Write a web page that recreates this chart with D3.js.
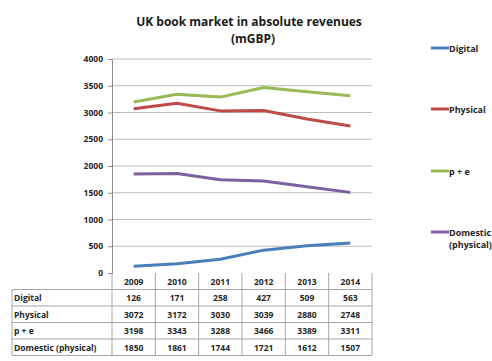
<!DOCTYPE html>
<html>
<head>
<meta charset="utf-8">
<script src="https://cdn.jsdelivr.net/npm/d3@7"></script>
<style>
  html, body { margin: 0; padding: 0; background: #fff; }
  svg { display: block; font-family: "Open Sans", Lato, sans-serif; }
</style>
</head>
<body>
<svg id="chart" width="492" height="361"></svg>
<script>
// UK book market, revenues in million GBP
const years = ["2009", "2010", "2011", "2012", "2013", "2014"];
const seriesNames = ["Digital", "Physical", "p + e", "Domestic (physical)"];
const legendLabels = [["Digital"], ["Physical"], ["p + e"], ["Domestic", "(physical)"]];
const digital = [126, 171, 258, 427, 509, 563];
const physical = [3072, 3172, 3030, 3039, 2880, 2748];
const pPlusE = [3198, 3343, 3288, 3466, 3389, 3311];
const domestic = [1850, 1861, 1744, 1721, 1612, 1507];
const yTicks = [0, 500, 1000, 1500, 2000, 2500, 3000, 3500, 4000];
const colors = ["#4a7ebb", "#be4b48", "#98b954", "#7d60a0"];

const seriesValues = [digital, physical, pPlusE, domestic];

const svg = d3.select("#chart");
const font = "'Open Sans', Lato, sans-serif";
const textColor = "#262626";

const plot = { left: 112, right: 372, top: 59, bottom: 273 };
const x = d3.scaleBand().domain(years).range([plot.left, plot.right]);
const y = d3.scaleLinear().domain([0, 4000]).range([plot.bottom, plot.top]);

// title (two lines)
svg.append("text")
  .attr("x", 249).attr("y", 26)
  .attr("text-anchor", "middle")
  .attr("font-size", 12).attr("font-weight", "bold").attr("fill", "#1a1a1a")
  .text("UK book market in absolute revenues");
svg.append("text")
  .attr("x", 253).attr("y", 42.5)
  .attr("text-anchor", "middle")
  .attr("font-size", 12).attr("font-weight", "bold").attr("fill", "#1a1a1a")
  .text("(mGBP)");

// horizontal gridlines
svg.append("g")
  .selectAll("line")
  .data(yTicks.filter(d => d > 0))
  .join("line")
  .attr("x1", plot.left).attr("x2", plot.right)
  .attr("y1", d => y(d)).attr("y2", d => y(d))
  .attr("stroke", "#bdbdbd").attr("stroke-width", 1);

// y axis
const yAxis = svg.append("g")
  .attr("transform", `translate(${plot.left},0)`)
  .call(d3.axisLeft(y).tickValues(yTicks).tickSize(4).tickPadding(5).tickFormat(d3.format("d")));
yAxis.select(".domain").attr("stroke", "#8c8c8c");
yAxis.selectAll(".tick line").attr("stroke", "#8c8c8c");
yAxis.selectAll(".tick text")
  .attr("font-size", 8.5).attr("font-weight", "bold").attr("fill", textColor)
  .attr("font-family", font);

// series lines
const line = d3.line()
  .x((d, i) => x(years[i]) + x.bandwidth() / 2)
  .y(d => y(d));

svg.append("g")
  .selectAll("path")
  .data(seriesValues)
  .join("path")
  .attr("d", d => line(d))
  .attr("fill", "none")
  .attr("stroke", (d, i) => colors[i])
  .attr("stroke-width", 3)
  .attr("stroke-linejoin", "round")
  .attr("stroke-linecap", "butt");

// data table below the axis
const table = { left: 12, top: 273, rowH: 16.5 };
const tableG = svg.append("g");
const gridColor = "#a6a6a6";
const nRows = seriesNames.length;
const tableBottom = table.top + table.rowH * (nRows + 1);

// vertical borders of year columns (including header)
const colEdges = years.map(yr => x(yr)).concat([plot.right]);
colEdges.forEach(cx => {
  tableG.append("line")
    .attr("x1", cx).attr("x2", cx)
    .attr("y1", table.top).attr("y2", tableBottom)
    .attr("stroke", gridColor);
});
// left border of label column
tableG.append("line")
  .attr("x1", table.left).attr("x2", table.left)
  .attr("y1", table.top + table.rowH).attr("y2", tableBottom)
  .attr("stroke", gridColor);
// header row bottom / row separators
for (let r = 1; r <= nRows + 1; r++) {
  tableG.append("line")
    .attr("x1", table.left).attr("x2", plot.right)
    .attr("y1", table.top + table.rowH * r).attr("y2", table.top + table.rowH * r)
    .attr("stroke", gridColor);
}

// year headers
tableG.selectAll("text.year")
  .data(years)
  .join("text")
  .attr("class", "year")
  .attr("x", d => x(d) + x.bandwidth() / 2)
  .attr("y", table.top + table.rowH / 2 + 3.5)
  .attr("text-anchor", "middle")
  .attr("font-size", 8.5).attr("font-weight", "bold").attr("fill", textColor)
  .text(d => d);

// row labels and values
seriesNames.forEach((name, r) => {
  const cy = table.top + table.rowH * (r + 1) + table.rowH / 2 + 3.5;
  tableG.append("text")
    .attr("x", table.left + 2).attr("y", cy)
    .attr("font-size", 8.5).attr("font-weight", "bold").attr("fill", textColor)
    .text(name);
  tableG.selectAll(null)
    .data(seriesValues[r])
    .join("text")
    .attr("x", (d, i) => x(years[i]) + x.bandwidth() / 2)
    .attr("y", cy)
    .attr("text-anchor", "middle")
    .attr("font-size", 8.5).attr("font-weight", "bold").attr("fill", textColor)
    .text(d => d);
});

// legend
const legendY = [48, 109, 171, 232];
const legend = svg.append("g");
legendLabels.forEach((lines, i) => {
  legend.append("line")
    .attr("x1", 431).attr("x2", 449)
    .attr("y1", legendY[i]).attr("y2", legendY[i])
    .attr("stroke", colors[i]).attr("stroke-width", 3);
  lines.forEach((t, j) => {
    legend.append("text")
      .attr("x", 449).attr("y", legendY[i] + 3.5 + j * 12.5)
      .attr("font-size", 9).attr("font-weight", "bold").attr("fill", textColor)
      .text(t);
  });
});
</script>
</body>
</html>
